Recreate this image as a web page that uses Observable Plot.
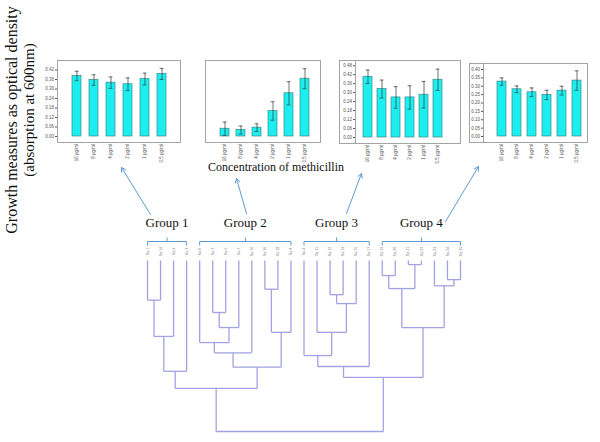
<!DOCTYPE html>
<html><head><meta charset="utf-8">
<script src="https://cdn.jsdelivr.net/npm/d3@7"></script>
<script src="https://cdn.jsdelivr.net/npm/@observablehq/plot@0.6"></script>
<style>
body{margin:0;background:#fff;}
#fig{position:relative;width:600px;height:442px;overflow:hidden;font-family:"Liberation Serif","Times New Roman",serif;color:#111;}
.abs{position:absolute;}
.abs svg{overflow:visible;}
.rot{position:absolute;white-space:nowrap;transform:translate(-50%,-50%) rotate(-90deg);}
</style></head><body><div id="fig"></div>
<script>
// ---------- data ----------
const concentrations = ["16 µg/ml","8 µg/ml","4 µg/ml","2 µg/ml","1 µg/ml","0.5 µg/ml"];
const group1Mean = [0.382, 0.357, 0.340, 0.330, 0.363, 0.395];
const group1Err  = [0.030, 0.033, 0.036, 0.040, 0.037, 0.035];
const group2Mean = [0.049, 0.041, 0.056, 0.161, 0.273, 0.365];
const group2Err  = [0.042, 0.025, 0.024, 0.058, 0.073, 0.063];
const group3Mean = [0.406, 0.324, 0.268, 0.268, 0.286, 0.386];
const group3Err  = [0.045, 0.060, 0.072, 0.078, 0.089, 0.071];
const group4Mean = [0.328, 0.282, 0.264, 0.248, 0.274, 0.334];
const group4Err  = [0.022, 0.020, 0.026, 0.028, 0.026, 0.058];
const ticks048 = [0,0.06,0.12,0.18,0.24,0.30,0.36,0.42];
const ticks048b = [0,0.06,0.12,0.18,0.24,0.30,0.36,0.42,0.48];
const ticks040 = [0,0.05,0.10,0.15,0.20,0.25,0.30,0.35,0.40];

const groupNames = ["Group 1","Group 2","Group 3","Group 4"];
const groupFirstLeaf = [0,4,12,18];
const groupLastLeaf  = [3,11,17,24];
const isolates = ["Sa 1","Sa 14","Sa 9","Sa 3","Sa 6","Sa 2","Sa 5","Sa 7","Sa 10","Sa 16","Sa 18","Sa 8",
  "Sa 4","Sa 11","Sa 12","Sa 13","Sa 15","Sa 17","Sa 19","Sa 20","Sa 21","Sa 22","Sa 23","Sa 24","Sa 25"];
// linkage: [childA, childB, height]; ids < 25 are leaves, >= 25 earlier merges
const merges = [
  [0,1,5.8],[25,2,11.1],[26,3,16.2],
  [5,6,7.6],[28,7,9.8],[4,29,12.0],[30,8,13.5],[9,10,4.2],[32,11,10.5],[31,33,15.6],
  [27,34,18.7],
  [14,15,5.0],[36,16,6.3],[13,37,10.5],[12,38,13.9],[39,17,15.5],
  [18,19,2.2],[20,21,0.6],[41,42,4.1],[23,24,2.8],[22,44,3.7],[43,45,9.8],
  [40,46,17.1],
  [35,47,25.0]
];

// ---------- layout ----------
const fig = document.getElementById("fig");
function place(el, left, top){ const d=document.createElement("div"); d.className="abs"; d.style.left=left+"px"; d.style.top=top+"px"; d.appendChild(el); fig.appendChild(d); return d; }

function panel(means, errs, cfg){
  const data = concentrations.map((c,i)=>({c, m:means[i], e:errs[i]}));
  const ink = "#333";
  const marks = [
    Plot.barY(data,{x:"c", y:"m", fill:"#1beeee", stroke:"#3a8a8a", strokeWidth:0.7}),
    Plot.ruleX(data,{x:"c", y1:d=>d.m-d.e, y2:d=>d.m+d.e, stroke:ink, strokeWidth:0.7}),
    Plot.tickY(data,{x:"c", y:d=>d.m+d.e, stroke:ink, strokeWidth:0.7, insetLeft:2.6, insetRight:2.6}),
    Plot.tickY(data,{x:"c", y:d=>d.m-d.e, stroke:ink, strokeWidth:0.7, insetLeft:2.6, insetRight:2.6}),
    Plot.frame({stroke:"#9a9a9a", strokeWidth:0.9, insetLeft: cfg.frameLeft||0})
  ];
  if (cfg.frameLeft) marks.push(Plot.frame({anchor:"left", stroke:"#9a9a9a", strokeWidth:0.9}));
  return Plot.plot({
    width: cfg.width, height: cfg.height,
    marginLeft: cfg.ml, marginRight: cfg.mr, marginTop: cfg.mt, marginBottom: cfg.mb,
    style:{fontFamily:"Liberation Sans, Arial, sans-serif", fontSize:"4.5px", color:"#555", background:"transparent", overflow:"visible"},
    x:{domain:concentrations, paddingInner:cfg.pi, paddingOuter:cfg.po, insetLeft:cfg.il||0, insetRight:cfg.ir||0,
       tickRotate:-90, tickSize:0, tickPadding:1.5, label:null},
    y: cfg.ticks ? {domain:cfg.yDomain, ticks:cfg.ticks, tickFormat:d3.format(".2f"), tickSize:2, tickPadding:1.5, label:null, insetBottom:6}
                 : {domain:cfg.yDomain, axis:null, insetBottom:6},
    marks
  });
}

place(panel(group1Mean, group1Err, {width:167,height:112,ml:39,mr:5,mt:10,mb:20,yDomain:[0,0.48],ticks:ticks048,pi:0.49,po:0.74}), 18, 50);
place(panel(group2Mean, group2Err, {width:140,height:112,ml:20,mr:5,mt:10,mb:20,yDomain:[0,0.48],pi:0.45,po:0.64,il:3}), 185, 50);
place(panel(group3Mean, group3Err, {width:140,height:112,ml:30,mr:5,mt:10,mb:19,yDomain:[0,0.515],ticks:ticks048b,pi:0.37,po:0.385,ir:10,frameLeft:-16}), 325, 50);
place(panel(group4Mean, group4Err, {width:137,height:109,ml:28,mr:5,mt:10,mb:20,yDomain:[0,0.436],ticks:ticks040,pi:0.43,po:0.305,il:7,frameLeft:-14}), 455, 53);

// ---------- dendrogram ----------
const nLeaf = isolates.length;
const nodes = isolates.map((name,i)=>({x:i, h:0}));
const segs = [];
for (const [a,b,h] of merges){
  const A = nodes[a], B = nodes[b];
  segs.push({x1:A.x, y1:A.h, x2:A.x, y2:h});
  segs.push({x1:B.x, y1:B.h, x2:B.x, y2:h});
  segs.push({x1:A.x, y1:h, x2:B.x, y2:h});
  nodes.push({x:(A.x+B.x)/2, h});
}
const yRange = [260, 431], rootH = d3.max(merges, d=>d[2]);
const pxPerUnit = (yRange[1]-yRange[0])/rootH;
const u = px => px/pxPerUnit; // pixel offset -> height units (layout helper)
const groups = groupNames.map((g,i)=>({g, a:groupFirstLeaf[i], b:groupLastLeaf[i], mid:(groupFirstLeaf[i]+groupLastLeaf[i])/2}));
const bracket = [];
for (const G of groups){
  bracket.push({x1:G.a, y1:-u(19), x2:G.b, y2:-u(19)});
  bracket.push({x1:G.a, y1:-u(19), x2:G.a, y2:-u(15)});
  bracket.push({x1:G.b, y1:-u(19), x2:G.b, y2:-u(15)});
  bracket.push({x1:G.mid, y1:-u(19), x2:G.mid, y2:-u(23)});
}
const dendro = Plot.plot({
  width:600, height:442, margin:0,
  style:{background:"transparent", overflow:"visible"},
  x:{domain:[0,nLeaf-1], range:[147,460], axis:null},
  y:{domain:[0,rootH], range:yRange, axis:null},
  marks:[
    Plot.link(segs,{x1:"x1",y1:"y1",x2:"x2",y2:"y2", stroke:"#a2a2e2", strokeWidth:1.3}),
    Plot.link(bracket,{x1:"x1",y1:"y1",x2:"x2",y2:"y2", stroke:"#5b9bd5", strokeWidth:1}),
    Plot.text(isolates,{x:(d,i)=>i, y:0, dy:-9, text:d=>d, rotate:-90, fontSize:3.6, fill:"#777", fontFamily:"Liberation Sans"}),
    Plot.text(groups,{x:"mid", y:0, dy:-38, text:"g", fontSize:13, fill:"#111", fontFamily:"Liberation Serif"})
  ]
});
place(dendro, 0, 0);

// ---------- arrows (annotation layout) ----------
const arrowLinks = [
  {g:"Group 1", x1:150, y1:214, x2:121, y2:167},
  {g:"Group 2", x1:246, y1:213, x2:236, y2:178},
  {g:"Group 3", x1:346, y1:213, x2:361, y2:173},
  {g:"Group 4", x1:445, y1:221, x2:478, y2:166}
];
const arrows = Plot.plot({
  width:600, height:442, margin:0,
  style:{background:"transparent"},
  x:{type:"identity", axis:null}, y:{type:"identity", axis:null},
  marks:[Plot.arrow(arrowLinks,{x1:"x1",y1:"y1",x2:"x2",y2:"y2", stroke:"#5b9bd5", strokeWidth:1, headLength:7})]
});
place(arrows, 0, 0);

// ---------- text ----------
function txt(s, cx, cy, size, rot){ const d=document.createElement("div"); d.className=rot?"rot":"abs"; d.textContent=s; d.style.left=cx+"px"; d.style.top=cy+"px"; d.style.fontSize=size+"px"; if(!rot){d.style.transform="translate(-50%,-50%)"; d.style.whiteSpace="nowrap";} fig.appendChild(d); }
txt("Growth measures as optical density", 12, 120, 16, true);
txt("(absorption at 600nm)", 29, 110, 15, true);
txt("Concentration of methicillin", 276, 167, 12, false);
</script></body></html>
